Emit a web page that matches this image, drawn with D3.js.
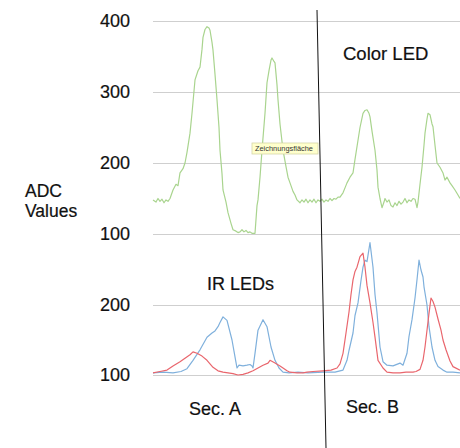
<!DOCTYPE html>
<html>
<head>
<meta charset="utf-8">
<script src="https://cdn.jsdelivr.net/npm/d3@7"></script>
<style>
  html, body { margin: 0; padding: 0; background: #fff; }
  svg { display: block; font-family: "Liberation Sans", Arial, Helvetica, sans-serif; }
</style>
</head>
<body>
<svg id="chart" width="460" height="448"></svg>
<script>
// ---- data (sample index t, ADC value) ----
const colorT = [0,3,5,7,9,11,13,15,17,20,23,25,27,30,32,34,37,39,42,45,47,49,50,52,54,56,57,59,60,62,64,66,67,69,70,73,75,78,80,83,85,87,89,91,93,95,97,99,102,104,105,107,109,112,114,116,118,119,121,122,124,125,127,130,133,135,137,140,142,144,147,149,151,153,155,157,159,161,163,165,167,169,171,173,175,177,179,181,183,185,187,190,192,194,197,200,202,205,207,210,212,214,216,217,219,222,224,225,227,229,231,232,234,236,238,240,242,244,246,248,250,252,254,256,258,260,262,264,265,267,269,271,272,274,275,277,279,280,282,284,287,290,292,294,297,299,302,305,307];
const colorV = [148,145,150,146,149,144,148,146,150,162,170,168,186,192,200,215,242,270,317,330,335,360,377,388,392,390,387,370,359,325,289,250,218,185,162,145,130,115,106,104,102,103,106,103,105,102,103,101,101,140,148,180,218,270,313,330,345,348,343,341,310,289,255,218,195,180,172,160,155,148,144,148,145,149,144,148,145,149,144,148,146,149,145,148,146,150,147,150,149,152,152,158,165,172,180,186,205,232,250,270,274,275,270,265,245,218,190,166,150,137,145,150,145,148,140,138,144,140,146,142,145,150,144,148,146,150,149,137,145,170,194,225,242,262,270,268,255,251,225,200,194,186,176,180,172,168,162,155,150,145,143];

const irBlueT = [0,10,20,28,34,40,47,54,59,62,65,67,70,74,79,82,84,86,90,94,97,99,100,102,105,110,114,118,122,126,130,136,145,155,170,182,190,194,196,200,202,205,208,210,212,214,217,220,222,224,227,230,234,240,247,250,254,256,259,262,264,266,268,270,271,274,276,279,282,285,290,294,300,307];
const irBlueV = [103,104,103,105,109,121,136,154,160,163,169,175,183,178,150,126,110,114,113,114,115,113,110,131,164,179,169,140,121,110,104,103,104,103,104,104,107,121,135,160,185,203,235,254,264,262,289,254,215,189,140,119,114,113,117,114,131,155,179,210,236,264,250,240,226,200,169,140,121,112,107,104,104,103];

const irRedT = [0,7,14,20,27,32,37,40,44,49,54,60,65,70,75,80,85,90,95,100,105,110,115,117,122,127,130,134,137,144,150,154,160,170,178,184,187,190,193,196,198,200,202,204,207,210,212,214,217,220,222,225,230,234,240,247,253,257,260,263,267,270,272,274,276,278,280,282,285,288,290,293,297,300,307];
const irRedV = [103,105,107,113,119,124,129,133,131,127,121,111,106,104,103,102,100,101,103,106,110,114,117,121,117,113,110,106,104,103,103,104,105,106,107,110,116,131,160,190,215,236,248,254,269,274,254,228,203,175,154,121,110,104,103,103,104,104,104,105,108,121,140,164,188,210,205,197,180,164,150,136,120,112,107];

const topTicks = [100, 200, 300, 400];
const bottomTicks = [100, 200];
const sectionBoundaryT = [164, 173]; // hand-drawn divider between Sec. A and Sec. B (top, bottom)

const labels = {
  yTitle: ["ADC", "Values"],
  color: "Color LED",
  ir: "IR LEDs",
  secA: "Sec. A",
  secB: "Sec. B",
  tooltip: "Zeichnungsfläche"
};

// ---- layout ----
const svg = d3.select("#chart");
const plotLeft = 153, plotRight = 460;
const x = d3.scaleLinear().domain([0, 307]).range([plotLeft, plotRight]);
const yTop = d3.scaleLinear().domain([100, 400]).range([234, 21]);
const yBot = d3.scaleLinear().domain([100, 200]).range([375, 305]);

function gridAxis(scale, ticks) {
  const g = svg.append("g").attr("transform", `translate(${plotLeft},0)`)
    .call(d3.axisLeft(scale).tickValues(ticks).tickFormat(d3.format("d"))
      .tickSizeInner(-(plotRight - plotLeft)).tickSizeOuter(0).tickPadding(23));
  g.select(".domain").remove();
  g.selectAll(".tick line").attr("stroke", "#cfcfcf").attr("stroke-width", 1);
  g.selectAll(".tick text").attr("fill", "#111").attr("font-size", "18px")
    .attr("stroke", "#111").attr("stroke-width", 0.2)
    .attr("font-family", "Liberation Sans, Arial, sans-serif");
  return g;
}
gridAxis(yTop, topTicks);
gridAxis(yBot, bottomTicks);

// ---- series ----
function drawLine(ts, vs, yScale, color) {
  const pts = ts.map((t, i) => [t, vs[i]]);
  svg.append("path")
    .datum(pts)
    .attr("fill", "none")
    .attr("stroke", color)
    .attr("stroke-width", 1.2)
    .attr("stroke-linejoin", "round")
    .attr("d", d3.line().x(d => x(d[0])).y(d => yScale(d[1])));
}
drawLine(colorT, colorV, yTop, "#a9d48e");
drawLine(irBlueT, irBlueV, yBot, "#7fb0dc");
drawLine(irRedT, irRedV, yBot, "#e9666d");

// ---- divider ----
svg.append("line")
  .attr("x1", x(sectionBoundaryT[0])).attr("y1", 10)
  .attr("x2", x(sectionBoundaryT[1])).attr("y2", 448)
  .attr("stroke", "#111").attr("stroke-width", 1);

// ---- texts ----
const txt = (s, xx, yy, size) => svg.append("text").attr("x", xx).attr("y", yy)
  .attr("font-size", size).attr("fill", "#111")
  .attr("stroke", "#111").attr("stroke-width", 0.2).text(s);
txt(labels.yTitle[0], 25, 197, "17.5px");
txt(labels.yTitle[1], 25, 217, "17.5px");
txt(labels.color, 343, 60, "18.5px");
txt(labels.ir, 207, 290, "18px");
txt(labels.secA, 189, 415, "18px");
txt(labels.secB, 346, 413, "18px");

// tooltip
const tip = svg.append("g").attr("transform", "translate(252,143)");
tip.append("rect").attr("width", 66).attr("height", 11)
  .attr("fill", "#ffffcc").attr("stroke", "#d6d6a8").attr("stroke-width", 0.8);
tip.append("text").attr("x", 3).attr("y", 8.2).attr("font-size", "7.4px")
  .attr("fill", "#333").text(labels.tooltip);
</script>
</body>
</html>
